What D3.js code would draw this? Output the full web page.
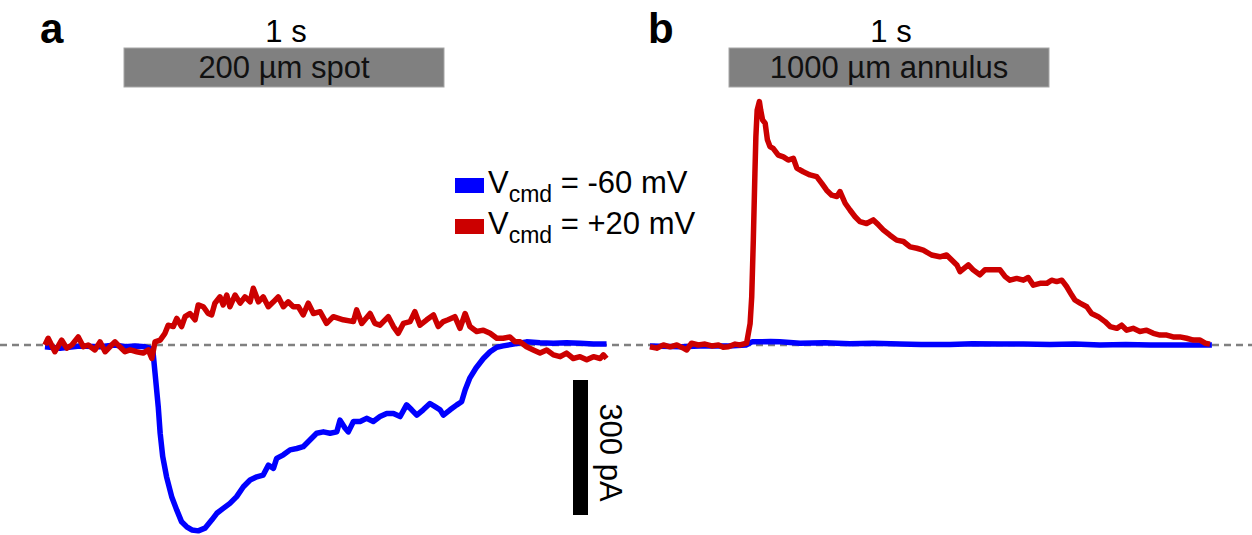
<!DOCTYPE html>
<html>
<head>
<meta charset="utf-8">
<script src="https://cdn.jsdelivr.net/npm/d3@7"></script>
<style>
  body { margin: 0; background: #fff; }
  svg text { font-family: "Liberation Sans", Arial, sans-serif; }
</style>
</head>
<body>
<div id="chart"></div>
<script>
// traces: [time (ms from light onset), current (pA)]
const spotBlue = [[-247,-4],[-200,-7],[-138,-2],[-75,-4],[-28,0],[3,-4],[34,-2],[66,-4],[81,-7],[91,-18],
  [97,-62],[107,-137],[113,-196],[121,-248],[133,-293],[149,-337],[165,-367],[180,-393],[196,-404],[212,-411],
  [232,-413],[253,-407],[274,-389],[290,-374],[310,-363],[331,-352],[352,-337],[373,-315],[394,-300],[415,-293],
  [435,-289],[451,-267],[467,-274],[477,-252],[498,-244],[519,-233],[540,-230],[560,-226],[581,-211],[602,-196],
  [623,-193],[644,-196],[665,-193],[675,-167],[691,-185],[701,-193],[717,-170],[738,-170],[758,-163],[779,-170],
  [800,-159],[821,-152],[842,-152],[863,-159],[883,-133],[899,-144],[915,-156],[935,-144],[956,-130],[972,-137],
  [988,-144],[998,-156],[1019,-144],[1040,-133],[1055,-126],[1066,-100],[1081,-73],[1100,-51],[1123,-30],[1144,-15],
  [1165,-5],[1185,-2],[1217,2],[1258,7],[1300,5],[1342,4],[1383,5],[1425,4],[1467,2],[1508,2]];

const spotRed = [[-247,0],[-237,15],[-216,-15],[-195,11],[-179,-7],[-163,0],[-143,18],[-127,-4],[-112,0],[-91,-11],
  [-75,7],[-59,-15],[-44,-4],[-28,7],[-13,-4],[3,-15],[19,-11],[40,-15],[60,-18],[76,-11],[87,-30],[97,7],
  [113,11],[128,26],[138,44],[154,41],[165,59],[180,41],[191,63],[206,70],[222,56],[232,89],[248,85],[263,70],
  [274,67],[284,93],[300,107],[310,89],[321,111],[331,85],[347,111],[363,93],[378,107],[394,96],[404,126],[420,96],
  [435,107],[451,85],[467,96],[482,107],[498,85],[513,96],[529,85],[545,85],[560,67],[576,93],[592,70],[613,74],
  [633,48],[654,63],[685,56],[717,52],[727,78],[743,48],[769,70],[784,48],[800,44],[826,63],[842,41],[857,26],
  [873,48],[894,52],[909,74],[925,44],[946,56],[967,67],[982,41],[998,52],[1013,56],[1034,63],[1050,37],[1066,70],
  [1081,41],[1102,30],[1123,33],[1144,26],[1165,15],[1185,15],[1206,18],[1222,7],[1238,7],[1258,-4],[1279,-11],
  [1300,-18],[1321,-11],[1342,-22],[1363,-26],[1383,-18],[1404,-30],[1425,-26],[1446,-33],[1467,-26],[1488,-30],
  [1498,-22],[1508,-30]];

const annulusBlue = [[-247,-2],[-150,-4],[-91,-2],[0,-2],[53,0],[72,7],[97,7],[130,8],[159,7],[222,4],[300,5],
  [378,3],[450,4],[534,2],[600,1],[691,1],[760,3],[847,2],[920,2],[1003,1],[1080,2],[1159,0],[1240,1],[1316,0],
  [1400,0],[1509,0]];

const annulusRed = [[-247,-4],[-226,-7],[-205,0],[-184,-4],[-163,0],[-143,-7],[-132,-11],[-117,4],[-96,0],[-75,2],
  [-54,-2],[-33,0],[-18,-5],[-2,-4],[19,2],[34,0],[55,4],[66,48],[71,107],[76,233],[81,382],[84,463],[88,522],
  [95,541],[99,522],[105,500],[113,493],[120,456],[128,441],[138,437],[154,422],[170,418],[185,411],[201,415],
  [212,393],[232,385],[253,378],[274,374],[290,359],[305,344],[321,333],[337,330],[347,341],[363,315],[378,300],
  [394,285],[409,274],[430,270],[451,278],[467,267],[482,256],[503,244],[524,233],[545,230],[566,218],[587,215],
  [607,211],[633,200],[659,196],[680,200],[696,189],[712,178],[722,163],[748,178],[763,167],[784,156],[800,167],
  [826,167],[847,167],[863,152],[878,144],[899,148],[920,144],[935,150],[951,133],[972,137],[993,137],[1008,144],
  [1024,141],[1040,144],[1055,130],[1071,111],[1081,100],[1097,93],[1118,85],[1133,70],[1154,63],[1175,52],
  [1191,41],[1212,37],[1227,44],[1243,33],[1263,37],[1284,30],[1305,33],[1326,26],[1347,22],[1368,22],[1388,18],
  [1409,18],[1430,15],[1451,11],[1472,11],[1488,4],[1503,2]];

const panels = [
  {letter: "a", stimulus: "200 µm spot", blue: spotBlue, red: spotRed},
  {letter: "b", stimulus: "1000 µm annulus", blue: annulusBlue, red: annulusRed}
];
const stimDuration = [0, 1000];       // ms
const scaleBarPA = 300;
const legendLabels = ["-60 mV", "+20 mV"];
const colors = {blue: "#0000ff", red: "#cc0000", gray: "#808080"};

const width = 1252, height = 535;
const font = 31;

const svg = d3.select("#chart").append("svg")
    .attr("width", width)
    .attr("height", height);

svg.append("rect").attr("width", width).attr("height", height).attr("fill", "#fff");

// current scale: 300 pA -> 135 px, zero at y = 345
const y = d3.scaleLinear().domain([0, scaleBarPA]).range([345, 210]);

// one time scale per panel, 1 s = 320 px
const xScales = [
    d3.scaleLinear().domain([0, 1000]).range([124, 444]),
    d3.scaleLinear().domain([0, 1000]).range([729, 1049])
];

// dashed zero line
svg.append("line")
    .attr("x1", 0).attr("x2", width)
    .attr("y1", y(0)).attr("y2", y(0))
    .attr("stroke", colors.gray)
    .attr("stroke-width", 2.5)
    .attr("stroke-dasharray", "7,5");

panels.forEach((p, i) => {
    let x = xScales[i];
    let g = svg.append("g").attr("class", "panel-" + p.letter);

    g.append("text")
        .attr("x", x(0) - (i == 0 ? 84 : 81))
        .attr("y", 43)
        .attr("font-size", 42)
        .attr("font-weight", "bold")
        .text(p.letter);

    g.append("text")
        .attr("x", x(500) + 2)
        .attr("y", 42)
        .attr("text-anchor", "middle")
        .attr("font-size", font)
        .text("1 s");

    g.append("rect")
        .attr("x", x(stimDuration[0]))
        .attr("y", 48)
        .attr("width", x(stimDuration[1]) - x(stimDuration[0]))
        .attr("height", 39)
        .attr("fill", colors.gray)
        .attr("stroke", "#a6a6a6")
        .attr("stroke-width", 1);

    g.append("text")
        .attr("x", x(500))
        .attr("y", 78)
        .attr("text-anchor", "middle")
        .attr("font-size", font)
        .attr("fill", "#111")
        .text(p.stimulus);

    let line = d3.line()
        .x(d => x(d[0]))
        .y(d => y(d[1]));

    g.append("path")
        .datum(p.blue)
        .attr("d", line)
        .attr("fill", "none")
        .attr("stroke", colors.blue)
        .attr("stroke-width", 5.5)
        .attr("stroke-linejoin", "round");

    g.append("path")
        .datum(p.red)
        .attr("d", line)
        .attr("fill", "none")
        .attr("stroke", colors.red)
        .attr("stroke-width", 5.5)
        .attr("stroke-linejoin", "round");
});

// legend
const legend = svg.append("g").attr("transform", "translate(455, 178)");
[colors.blue, colors.red].forEach((c, i) => {
    let row = legend.append("g").attr("transform", `translate(0, ${i * 41})`);
    row.append("rect")
        .attr("width", 29).attr("height", 15)
        .attr("fill", c);
    let t = row.append("text")
        .attr("x", 33).attr("y", 15)
        .attr("font-size", font);
    t.append("tspan").text("V");
    t.append("tspan").attr("font-size", 23).attr("dy", 9).text("cmd");
    t.append("tspan").attr("dy", -9).text(" = " + legendLabels[i]);
});

// scale bar
const sb = svg.append("g").attr("class", "scale-bar");
sb.append("rect")
    .attr("x", 573)
    .attr("y", 380)
    .attr("width", 15)
    .attr("height", y(0) - y(scaleBarPA))
    .attr("fill", "#000");
sb.append("text")
    .attr("transform", `translate(600, ${380 + (y(0) - y(scaleBarPA)) / 2 + 5}) rotate(90)`)
    .attr("text-anchor", "middle")
    .attr("font-size", font)
    .text(scaleBarPA + " pA");
</script>
</body>
</html>
